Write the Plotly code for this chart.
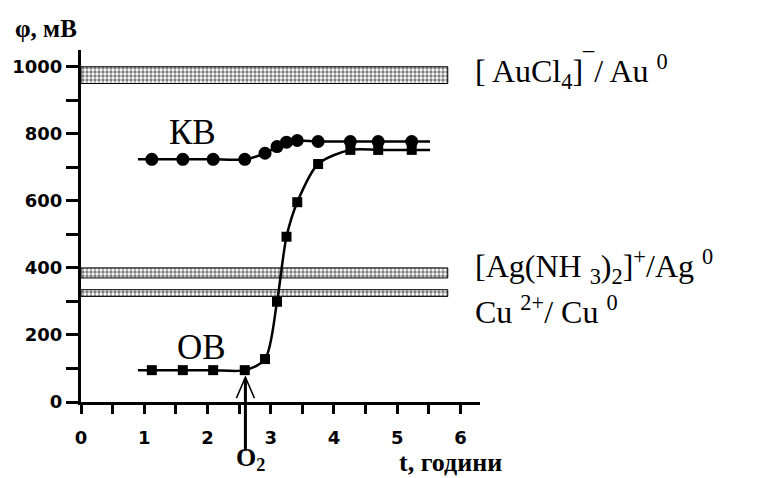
import plotly.graph_objects as go

# ---- data ----
t_hours = [1.12, 1.61, 2.09, 2.59, 2.91, 3.10, 3.25, 3.42, 3.75, 4.26, 4.70, 5.23]
kv_mv = [724, 724, 724, 724, 742, 762, 775, 780, 777, 777, 777, 777]
ov_mv = [95, 95, 95, 95, 128, 299, 493, 596, 710, 752, 752, 752]
curve_t_start = 0.90
curve_t_end = 5.52

band_names = ["au", "ag", "cu"]
band_low = [950, 370, 315]
band_high = [1000, 400, 335]
band_t_end = 5.8

o2_time = 2.6

x_tick_vals = [0, 1, 2, 3, 4, 5, 6]
y_tick_vals = [0, 200, 400, 600, 800, 1000]

SERIF = "Liberation Serif"
SANS = "DejaVu Sans"

fig = go.Figure()

# shaded redox bands
for lo, hi in zip(band_low, band_high):
    fig.add_trace(go.Scatter(
        x=[0, band_t_end, band_t_end, 0, 0],
        y=[lo, lo, hi, hi, lo],
        mode="lines", fill="toself",
        line=dict(color="black", width=1),
        fillcolor="white",
        fillpattern=dict(shape=".", fgcolor="black", bgcolor="white",
                         size=4, solidity=0.55, fillmode="overlay"),
        hoverinfo="skip", showlegend=False,
    ))

# curves
for ys, sym, msize in [(kv_mv, "circle", 13), (ov_mv, "square", 10)]:
    fig.add_trace(go.Scatter(
        x=[curve_t_start] + t_hours + [curve_t_end],
        y=[ys[0]] + ys + [ys[-1]],
        mode="lines", line=dict(color="black", width=2.5, shape="spline", smoothing=0.8),
        showlegend=False, hoverinfo="skip",
    ))
    fig.add_trace(go.Scatter(
        x=t_hours, y=ys, mode="markers",
        marker=dict(symbol=sym, size=msize, color="black"),
        showlegend=False,
    ))

# O2 arrow: open chevron head (shape) + vertical shaft (annotation, not clipped)
fig.add_shape(type="path", xref="x", yref="y",
              xsizemode="pixel", ysizemode="pixel",
              xanchor=o2_time, yanchor=ov_mv[3],
              path="M-9,-28 L0,-7 L9,-28", line=dict(color="black", width=1.5))

ann = []
ann.append(dict(text="", x=o2_time, y=ov_mv[3], xref="x", yref="y",
                showarrow=True, arrowhead=0, arrowwidth=3, arrowcolor="black",
                ax=0, ay=82, standoff=8))
ann.append(dict(text="КВ", x=1.76, y=803, xref="x", yref="y", showarrow=False,
                font=dict(family=SERIF, size=35, color="black")))
ann.append(dict(text="ОВ", x=1.9, y=164, xref="x", yref="y", showarrow=False,
                font=dict(family=SERIF, size=35, color="black")))
ann.append(dict(text="[ AuCl<sub>4</sub>]<sup>¯</sup>/ Au <sup>0</sup>", x=6.2, y=985,
                xref="x", yref="y", xanchor="left", yanchor="middle", showarrow=False,
                font=dict(family=SERIF, size=32, color="black")))
ann.append(dict(text="[Ag(NH <sub>3</sub>)<sub>2</sub>]<sup>+</sup>/Ag <sup>0</sup>", x=6.2, y=405,
                xref="x", yref="y", xanchor="left", yanchor="middle", showarrow=False,
                font=dict(family=SERIF, size=32, color="black")))
ann.append(dict(text="Cu <sup>2+</sup>/ Cu <sup>0</sup>", x=6.2, y=275,
                xref="x", yref="y", xanchor="left", yanchor="middle", showarrow=False,
                font=dict(family=SERIF, size=32, color="black")))
ann.append(dict(text="φ, мВ", x=-0.17, y=1.062, xref="paper", yref="paper",
                xanchor="left", yanchor="middle", showarrow=False,
                font=dict(family=SERIF, size=25, color="black", weight="bold")))
ann.append(dict(text="t, години", x=5.85, y=-0.173, xref="x", yref="paper",
                xanchor="center", yanchor="middle",
                showarrow=False, font=dict(family=SERIF, size=26, color="black", weight="bold")))
ann.append(dict(text="O<sub>2</sub>", x=2.42, y=-0.162, xref="x", yref="paper",
                xanchor="left", yanchor="middle", showarrow=False,
                font=dict(family=SERIF, size=26, color="black", weight="bold")))

fig.update_layout(
    width=765, height=478,
    margin=dict(l=81, r=285, t=50, b=76),
    paper_bgcolor="white", plot_bgcolor="white",
    annotations=ann,
    xaxis=dict(range=[0, 6.31], tickvals=x_tick_vals, showgrid=False, zeroline=False,
               showline=True, linecolor="black", linewidth=3,
               ticks="outside", ticklen=9, tickwidth=3, tickcolor="black",
               ticklabelstandoff=8,
               minor=dict(dtick=0.5, ticks="outside", ticklen=9, tickwidth=3, tickcolor="black"),
               tickfont=dict(family=SANS, size=18, color="black", weight="bold")),
    yaxis=dict(range=[0, 1050], tickvals=y_tick_vals, showgrid=False, zeroline=False,
               showline=True, linecolor="black", linewidth=3,
               ticks="outside", ticklen=12, tickwidth=3, tickcolor="black",
               minor=dict(dtick=100, ticks="outside", ticklen=12, tickwidth=3, tickcolor="black"),
               tickfont=dict(family=SANS, size=18, color="black", weight="bold")),
)

fig.write_html("out.html")
